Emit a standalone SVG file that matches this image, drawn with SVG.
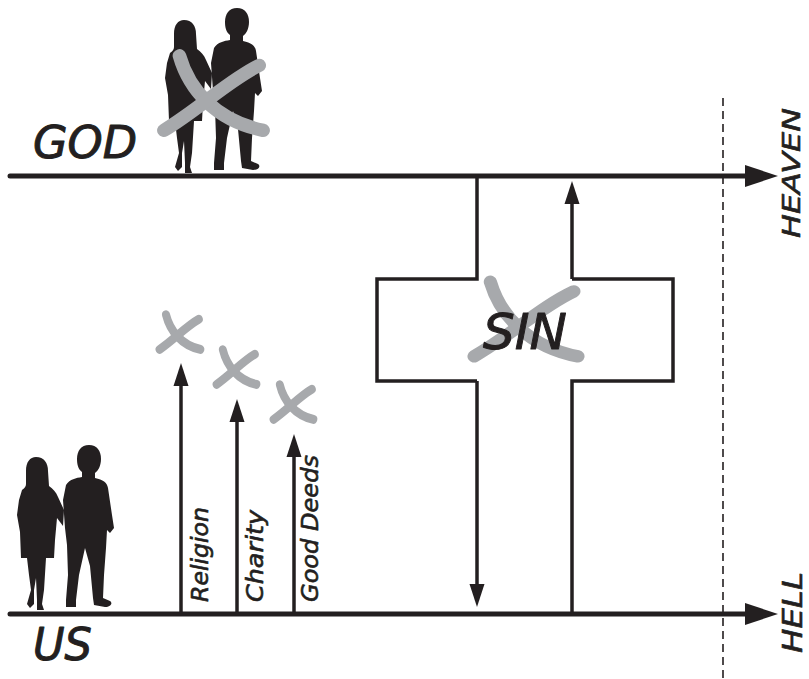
<svg xmlns="http://www.w3.org/2000/svg" xmlns:xlink="http://www.w3.org/1999/xlink" width="809" height="679" viewBox="0 0 809 679">
  <style>
    .label { font-family: "DejaVu Sans", "Liberation Sans", sans-serif; font-style: oblique; fill: #231f20; stroke: #231f20; stroke-width: 1; stroke-linejoin: round; }
    .small { stroke-width: 0.6; }
    .main { stroke: #231f20; stroke-width: 5; fill: none; stroke-linecap: round; }
    .thin { stroke: #231f20; stroke-width: 3.5; fill: none; }
    .cross { stroke: #231f20; stroke-width: 3.5; fill: none; stroke-linejoin: miter; }
    .guide { stroke: #231f20; stroke-width: 1.6; stroke-dasharray: 8 5; fill: none; }
    .silhouette { fill: #231f20; }
    .xmark { stroke: #a7a9ac; fill: none; stroke-linecap: round; }
  </style>
  <defs>
    <marker id="bigHead" viewBox="0 -11 33 22" markerWidth="33" markerHeight="22" refX="0" refY="0" markerUnits="userSpaceOnUse" orient="auto">
      <path d="M0,-11 L33,0 L0,11 Z" fill="#231f20"/>
    </marker>
    <marker id="smallHead" viewBox="0 -8 23 16" markerWidth="23" markerHeight="16" refX="1" refY="0" markerUnits="userSpaceOnUse" orient="auto">
      <path d="M0,-7.5 L23,0 L0,7.5 Z" fill="#231f20"/>
    </marker>
    <!-- brush-style cross-out mark, drawn in a 110 x 90 box -->
    <symbol id="xstroke" viewBox="0 0 110 90" preserveAspectRatio="none" overflow="visible">
      <path d="M20,4 C30,40 58,72 106,82"/>
      <path d="M102,14 C70,30 40,60 4,82"/>
    </symbol>
    <!-- standing couple, drawn at the lower position -->
    <g id="couple">
      <path class="silhouette" d="M36,457 C44,457 48,463 48,471 L49,486 C53,489 56,492 58,497 L64,510 L63,526 L57,518 L55,540 L54,558 L46,558 L44,590 L42,604 L44,610 L37,610 L37,600 L36,578 L34,590 L34,604 L30,608 L27,604 L31,590 L29,575 L27,558 L21,558 L20,532 L17,515 L19,500 L22,490 C25,488 26,486 26,484 L26,471 C26,462 30,457 36,457 Z"/>
      <path class="silhouette" d="M89,445 C97,445 101,451 101,459 C101,466 98,471 95,473 L95,478 C103,480 107,482 108,488 L112,515 L114,528 L110,533 L107,530 L106,548 L104,575 L103,598 L110,601 C113,603 111,607 105,607 L94,605 L93,598 L90,566 L85,548 L79,575 L76,600 L76,607 L66,607 L66,600 L68,575 L67,545 L65,528 L63,500 L66,485 C70,479 76,478 82,477 L82,472 C78,469 77,464 77,459 C77,451 81,445 89,445 Z"/>
    </g>
  </defs>

  <!-- heaven boundary -->
  <line class="guide" x1="723" y1="98" x2="723" y2="679"/>

  <g id="connectors">
    <!-- level lines -->
    <path class="main" d="M10,176 H745" marker-end="url(#bigHead)"/>
    <path class="main" d="M10,614 H745" marker-end="url(#bigHead)"/>
    <!-- human attempts -->
    <path class="thin" d="M181,614 V385" marker-end="url(#smallHead)"/>
    <path class="thin" d="M237,614 V421" marker-end="url(#smallHead)"/>
    <path class="thin" d="M294,614 V456" marker-end="url(#smallHead)"/>
    <!-- paths through the cross -->
    <path class="thin" d="M477,381 V585" marker-end="url(#smallHead)"/>
    <path class="thin" d="M572,279 V203" marker-end="url(#smallHead)"/>
  </g>

  <g id="god">
    <use xlink:href="#couple" transform="translate(148,-437)"/>
    <use xlink:href="#xstroke" class="xmark" x="160" y="52" width="107" height="86" stroke-width="14"/>
    <text class="label" x="33" y="158" font-size="44" textLength="104" lengthAdjust="spacingAndGlyphs">GOD</text>
  </g>

  <g id="us">
    <use xlink:href="#couple"/>
    <text class="label" x="33" y="660" font-size="45" textLength="59" lengthAdjust="spacingAndGlyphs">US</text>
  </g>

  <g id="cross">
    <path class="cross" d="M477,176 V279 H377 V381 H477"/>
    <path class="cross" d="M572,279 H673 V381 H572 V614"/>
    <use xlink:href="#xstroke" class="xmark" x="470" y="278" width="112" height="86" stroke-width="13"/>
    <text class="label" x="483" y="349" font-size="50" textLength="84" lengthAdjust="spacingAndGlyphs">SIN</text>
  </g>

  <g id="religion">
    <use xlink:href="#xstroke" class="xmark" x="158" y="313" width="44" height="40" stroke-width="20"/>
    <text class="label small" font-size="23" transform="translate(208,602) rotate(-90)" textLength="95" lengthAdjust="spacingAndGlyphs">Religion</text>
  </g>

  <g id="charity">
    <use xlink:href="#xstroke" class="xmark" x="215" y="348" width="43" height="40" stroke-width="20"/>
    <text class="label small" font-size="23" transform="translate(263,602) rotate(-90)" textLength="92" lengthAdjust="spacingAndGlyphs">Charity</text>
  </g>

  <g id="good-deeds">
    <use xlink:href="#xstroke" class="xmark" x="272" y="383" width="43" height="40" stroke-width="20"/>
    <text class="label small" font-size="23" transform="translate(318,602) rotate(-90)" textLength="147" lengthAdjust="spacingAndGlyphs">Good Deeds</text>
  </g>

  <g id="heaven">
    <text class="label small" font-size="25" transform="translate(800,238) rotate(-90)" textLength="130" lengthAdjust="spacingAndGlyphs">HEAVEN</text>
  </g>

  <g id="hell">
    <text class="label small" font-size="26" transform="translate(802,653) rotate(-90)" textLength="81" lengthAdjust="spacingAndGlyphs">HELL</text>
  </g>
</svg>
